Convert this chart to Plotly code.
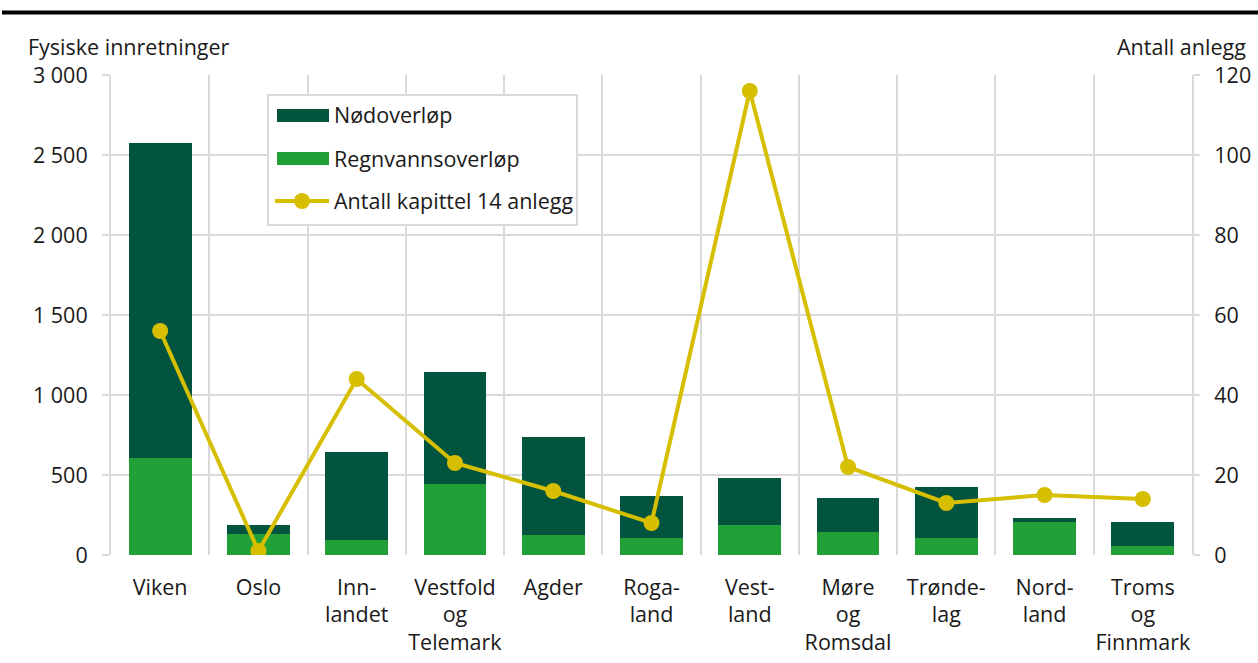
import plotly.graph_objects as go

# Fylker (categories) and values
fylker = ["Viken", "Oslo", "Inn-<br>landet", "Vestfold<br>og<br>Telemark", "Agder",
          "Roga-<br>land", "Vest-<br>land", "Møre<br>og<br>Romsdal", "Trønde-<br>lag",
          "Nord-<br>land", "Troms<br>og<br>Finnmark"]
regnvannsoverlop = [605, 130, 95, 445, 127, 104, 187, 144, 106, 206, 56]
nodoverlop = [1970, 58, 549, 699, 610, 265, 292, 210, 319, 27, 150]
kapittel14_anlegg = [56, 1, 44, 23, 16, 8, 116, 22, 13, 15, 14]

left_ticks = [0, 500, 1000, 1500, 2000, 2500, 3000]
left_ticktext = ["0", "500", "1 000", "1 500", "2 000", "2 500", "3 000"]
right_ticks = [0, 20, 40, 60, 80, 100, 120]

DARK = "#02543f"
GREEN = "#21a038"
YELLOW = "#d6bf00"
GRID = "#d9d9d9"
TXT = "#1a1a1a"
FONT = "Open Sans"
FS = 21.5

W, H = 1258, 663
L, R, T, B = 111, 66, 75, 108
PW, PH = W - L - R, H - T - B


def px(x):
    return (x - L) / PW


def py(y):
    return (H - B - y) / PH


xs = list(range(len(fylker)))

fig = go.Figure()
fig.add_trace(go.Bar(x=xs, y=regnvannsoverlop, name="Regnvannsoverløp",
                     marker=dict(color=GREEN, line=dict(width=0)), width=0.64,
                     showlegend=False))
fig.add_trace(go.Bar(x=xs, y=nodoverlop, name="Nødoverløp",
                     marker=dict(color=DARK, line=dict(width=0)), width=0.64,
                     showlegend=False))
fig.add_trace(go.Scatter(x=xs, y=kapittel14_anlegg, name="Antall kapittel 14 anlegg",
                         mode="lines+markers", yaxis="y2",
                         line=dict(color=YELLOW, width=4),
                         marker=dict(color=YELLOW, size=16),
                         showlegend=False))

shapes = [
    # heavy rule at the top
    dict(type="line", xref="paper", yref="paper", x0=px(2), x1=px(W), y0=py(12.5), y1=py(12.5),
         line=dict(color="black", width=4)),
    # legend frame
    dict(type="rect", xref="paper", yref="paper", x0=px(268), x1=px(577), y0=py(95), y1=py(225),
         line=dict(color=GRID, width=2), fillcolor="white", layer="above"),
    dict(type="rect", xref="paper", yref="paper", x0=px(277), x1=px(329), y0=py(109), y1=py(122),
         line=dict(width=0), fillcolor=DARK, layer="above"),
    dict(type="rect", xref="paper", yref="paper", x0=px(277), x1=px(329), y0=py(152), y1=py(165),
         line=dict(width=0), fillcolor=GREEN, layer="above"),
    dict(type="line", xref="paper", yref="paper", x0=px(275), x1=px(329), y0=py(201), y1=py(201),
         line=dict(color=YELLOW, width=4), layer="above"),
    dict(type="circle", xref="paper", yref="paper", x0=px(294), x1=px(310), y0=py(193), y1=py(209),
         line=dict(width=0), fillcolor=YELLOW, layer="above"),
]

annotations = [
    dict(text="Fysiske innretninger", xref="paper", yref="paper", x=px(26), y=py(47),
         xanchor="left", yanchor="middle", showarrow=False, font=dict(size=FS, color=TXT)),
    dict(text="Antall anlegg", xref="paper", yref="paper", x=px(1248), y=py(47),
         xanchor="right", yanchor="middle", showarrow=False, font=dict(size=FS, color=TXT)),
]
for label, yc in [("Nødoverløp", 114), ("Regnvannsoverløp", 158), ("Antall kapittel 14 anlegg", 201)]:
    annotations.append(dict(text=label, xref="paper", yref="paper", x=px(332), y=py(yc),
                            xanchor="left", yanchor="middle", showarrow=False,
                            font=dict(size=FS, color=TXT)))

fig.update_layout(
    width=W, height=H,
    margin=dict(l=L, r=R, t=T, b=B, autoexpand=False),
    barmode="stack",
    plot_bgcolor="white", paper_bgcolor="white",
    font=dict(family=FONT, size=FS, color=TXT),
    showlegend=False,
    shapes=shapes,
    annotations=annotations,
    xaxis=dict(range=[-0.5, len(fylker) - 0.5], tickvals=xs, ticktext=fylker,
               showgrid=False, zeroline=False, showline=False, ticks="",
               ticklabelstandoff=17, automargin=False,
               minor=dict(tick0=-0.5, dtick=1, showgrid=True, gridcolor=GRID, gridwidth=2,
                          ticks=""),
               tickfont=dict(size=FS, color=TXT)),
    yaxis=dict(range=[0, 3000], tickvals=left_ticks, ticktext=left_ticktext,
               showgrid=True, gridcolor=GRID, gridwidth=2, zeroline=False,
               showline=True, linecolor=GRID, linewidth=2,
               ticks="outside", ticklen=7, tickwidth=2, tickcolor=GRID,
               ticklabelstandoff=10, automargin=False,
               tickfont=dict(size=FS, color=TXT)),
    yaxis2=dict(range=[0, 120], tickvals=right_ticks, overlaying="y", side="right",
                showgrid=False, zeroline=False,
                showline=True, linecolor=GRID, linewidth=2,
                ticks="outside", ticklen=6, tickwidth=2, tickcolor=GRID,
                ticklabelstandoff=10, automargin=False,
                tickfont=dict(size=FS, color=TXT)),
)

fig.write_html("out.html")
